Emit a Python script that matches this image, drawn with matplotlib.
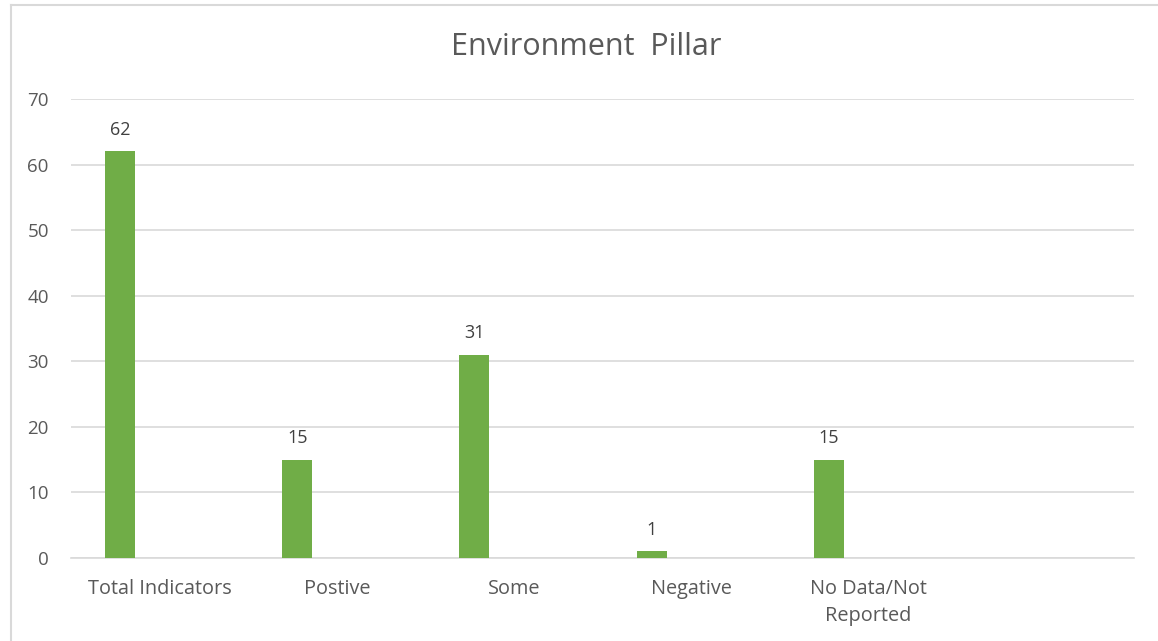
import matplotlib.pyplot as plt
from matplotlib.lines import Line2D

# Chart data
categories = ['Total Indicators', 'Postive', 'Some', 'Negative', 'No Data/Not\nReported', '']
values = [62, 15, 31, 1, 15, None]
yticks = [0, 10, 20, 30, 40, 50, 60, 70]

bar_color = '#70ad47'
text_color = '#595959'
grid_color = '#d9d9d9'

plt.rcParams['font.family'] = ['Open Sans', 'DejaVu Sans']

fig = plt.figure(figsize=(11.58, 6.41), dpi=100)
ax = fig.add_axes([71 / 1158, 1 - 558 / 641, (1134 - 71) / 1158, (558 - 99) / 641])

offset = -0.223
xs = [i + offset for i, v in enumerate(values) if v is not None]
hs = [v for v in values if v is not None]
bars = ax.bar(xs, hs, width=0.17, color=bar_color, zorder=3)

for x, h in zip(xs, hs):
    ax.annotate(str(h), (x, h), xytext=(0, 9), textcoords='offset points',
                ha='center', va='bottom', fontsize=13, color='#404040')

ax.set_xlim(-0.5, len(categories) - 0.5)
ax.set_ylim(0, 70)
ax.set_yticks(yticks)
ax.set_xticks(range(len(categories)))
ax.set_xticklabels(categories, fontsize=14.3, color=text_color, linespacing=1.5)
ax.tick_params(axis='y', labelsize=13.5, labelcolor=text_color, length=0, pad=16)
ax.tick_params(axis='x', length=0, pad=15)
ax.grid(axis='y', color=grid_color, linewidth=1.2, zorder=0)
for side in ['top', 'right', 'left']:
    ax.spines[side].set_visible(False)
ax.spines['bottom'].set_color(grid_color)
ax.spines['bottom'].set_linewidth(1.2)

fig.text(586 / 1158, 1 - 47 / 641, 'Environment  Pillar', ha='center', va='center',
         fontsize=22, color=text_color)

# chart border (left and top)
fig.add_artist(Line2D([10.5 / 1158, 10.5 / 1158], [0, 1 - 5 / 641], color=grid_color, linewidth=1.5))
fig.add_artist(Line2D([10.5 / 1158, 1], [1 - 5 / 641, 1 - 5 / 641], color=grid_color, linewidth=1.5))

fig.savefig('out.png', dpi=100, facecolor='white')
